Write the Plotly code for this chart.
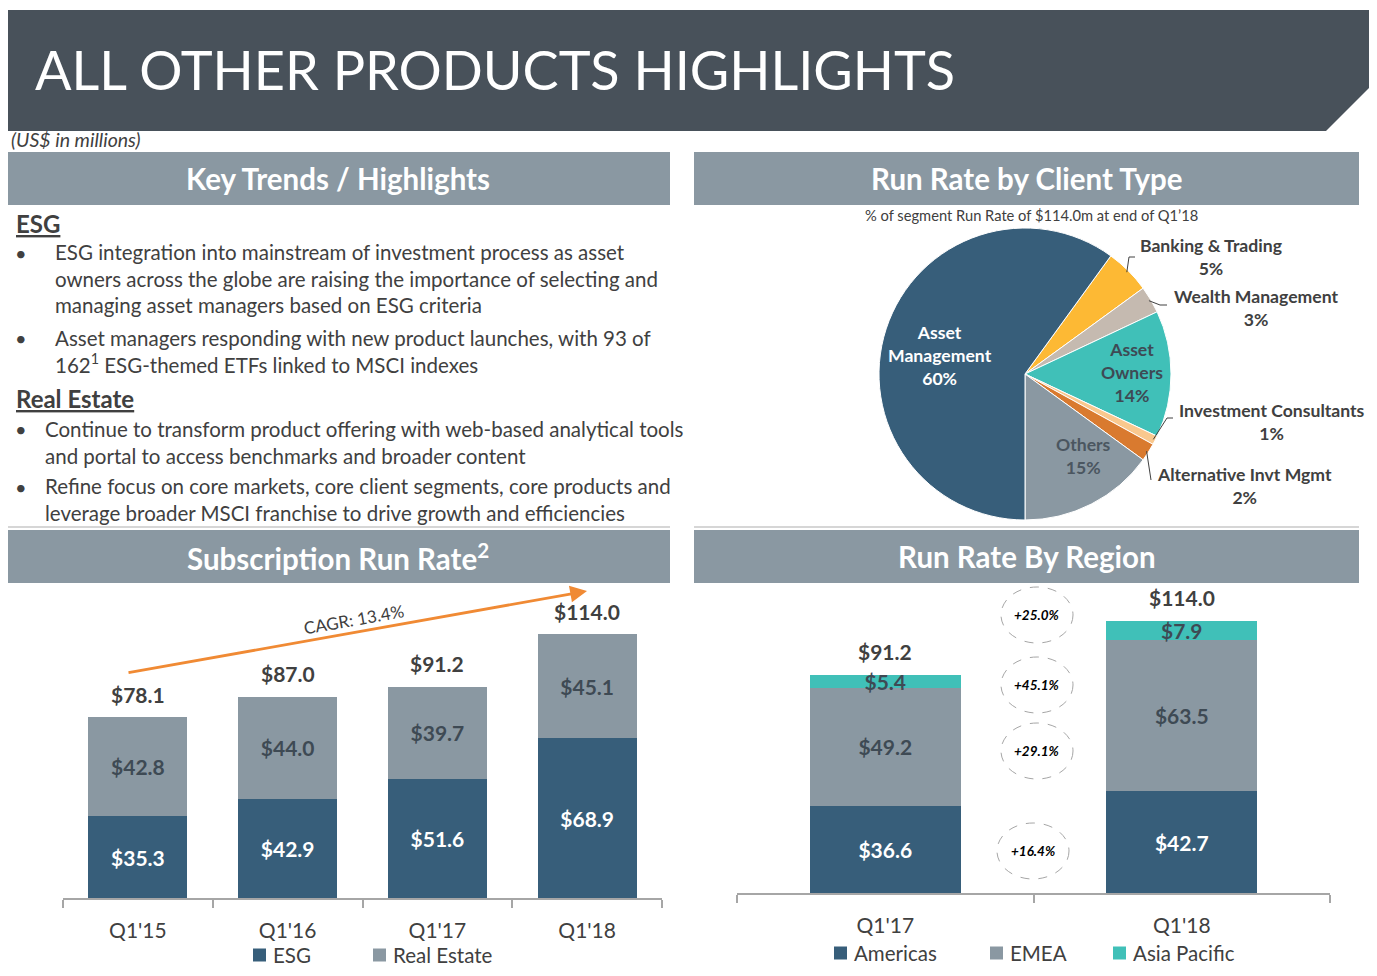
import math
import plotly.graph_objects as go

# ---------------- data ----------------
sub_quarters = ["Q1'15", "Q1'16", "Q1'17", "Q1'18"]
sub_esg = [35.3, 42.9, 51.6, 68.9]
sub_real_estate = [42.8, 44.0, 39.7, 45.1]
sub_totals = [78.1, 87.0, 91.2, 114.0]
sub_cagr = "CAGR: 13.4%"

reg_quarters = ["Q1'17", "Q1'18"]
reg_americas = [36.6, 42.7]
reg_emea = [49.2, 63.5]
reg_apac = [5.4, 7.9]
reg_totals = [91.2, 114.0]
reg_growth = ["+25.0%", "+45.1%", "+29.1%", "+16.4%"]

client_types = ["Banking & Trading", "Wealth Management", "Asset Owners",
                "Investment Consultants", "Alternative Invt Mgmt", "Others",
                "Asset Management"]
client_pct = [5, 3, 14, 1, 2, 15, 60]

esg_points = [
    "ESG integration into mainstream of investment process as asset<br>"
    "owners across the globe are raising the importance of selecting and<br>"
    "managing asset managers based on ESG criteria",
    "Asset managers responding with new product launches, with 93 of<br>"
    "162<sup>1</sup> ESG-themed ETFs linked to MSCI indexes",
]
re_points = [
    "Continue to transform product offering with web-based analytical tools<br>"
    "and portal to access benchmarks and broader content",
    "Refine focus on core markets, core client segments, core products and<br>"
    "leverage broader MSCI franchise to drive growth and efficiencies",
]

# ---------------- style ----------------
F = "Lato"
BLUE = "#375E7A"
GRAY = "#8A98A2"
TEAL = "#40C0B8"
BANNER = "#48515A"
TXT = "#404040"
DARKLBL = "#3E4A54"
ORANGE = "#F08A34"
AX = "#A6A6A6"
PIE_COLORS = ["#FDB934", "#C5BAB0", "#40C0B8", "#F9C88E", "#D97A2F", "#8A98A2", "#375E7A"]

OX, OY = 8, 8
W, H = 1361, 960


def X(x):
    return (x - OX) / W


def Y(y):
    return 1 - (y - OY) / H


def note(x, y, text, size, color=TXT, xanchor="center", **kw):
    d = dict(x=X(x), y=Y(y), xref="paper", yref="paper", text=text, showarrow=False,
             xanchor=xanchor, yanchor="middle", font=dict(family=F, size=size, color=color))
    d.update(kw)
    return d


fig = go.Figure()

# ---------------- subscription run rate (stacked bars) ----------------
fig.add_trace(go.Bar(
    x=sub_quarters, y=sub_esg, name="ESG", marker=dict(color=BLUE, line=dict(width=0)),
    width=0.66, texttemplate="<b>$%{y:.1f}</b>", textposition="inside",
    insidetextanchor="middle", constraintext="none",
    textfont=dict(family=F, size=21, color="white"), xaxis="x", yaxis="y", showlegend=False))
fig.add_trace(go.Bar(
    x=sub_quarters, y=sub_real_estate, name="Real Estate", marker=dict(color=GRAY, line=dict(width=0)),
    width=0.66, texttemplate="<b>$%{y:.1f}</b>", textposition="inside",
    insidetextanchor="middle", constraintext="none",
    textfont=dict(family=F, size=21, color=DARKLBL), xaxis="x", yaxis="y", showlegend=False))

# ---------------- run rate by region ----------------
for vals, nm, col, tcol in [(reg_americas, "Americas", BLUE, "white"),
                            (reg_emea, "EMEA", GRAY, DARKLBL),
                            (reg_apac, "Asia Pacific", TEAL, DARKLBL)]:
    fig.add_trace(go.Bar(
        x=reg_quarters, y=vals, name=nm, marker=dict(color=col, line=dict(width=0)),
        width=0.51, texttemplate="<b>$%{y:.1f}</b>", textposition="inside",
        insidetextanchor="middle", constraintext="none",
        textfont=dict(family=F, size=21, color=tcol), xaxis="x2", yaxis="y2", showlegend=False))

# ---------------- pie ----------------
PIE_CX, PIE_CY, PIE_R = 1025, 374, 146
PIE_ROT = 36
fig.add_trace(go.Pie(
    labels=client_types, values=client_pct, sort=False, direction="clockwise",
    rotation=PIE_ROT, textinfo="none", showlegend=False,
    marker=dict(colors=PIE_COLORS, line=dict(color="white", width=1)),
    domain=dict(x=[X(PIE_CX - PIE_R), X(PIE_CX + PIE_R)], y=[Y(PIE_CY + PIE_R), Y(PIE_CY - PIE_R)])))

shapes = []
ann = []

# banner
shapes.append(dict(type="path", xref="paper", yref="paper",
                   path=f"M{X(5)},{Y(10)} L{X(1377)},{Y(10)} L{X(1374)},{Y(83)} L{X(1326)},{Y(131)} L{X(5)},{Y(131)} Z",
                   fillcolor=BANNER, line=dict(width=0), layer="below"))
ann.append(note(33, 70, "ALL OTHER PRODUCTS HIGHLIGHTS", 54, "white", xanchor="left"))
ann.append(note(9, 140, "<i>(US$ in millions)</i>", 19.5, TXT, xanchor="left"))

# section headers
headers = [("Key Trends / Highlights", 6, 670, 152, 205),
           ("Run Rate by Client Type", 694, 1359, 152, 205),
           ("Subscription Run Rate<sup>2</sup>", 6, 670, 530, 583),
           ("Run Rate By Region", 694, 1359, 530, 583)]
for txt, x0, x1, y0, y1 in headers:
    shapes.append(dict(type="rect", xref="paper", yref="paper", x0=X(x0), x1=X(x1), y0=Y(y1), y1=Y(y0),
                       fillcolor=GRAY, line=dict(width=0), layer="below"))
    ann.append(note((x0 + x1) / 2, (y0 + y1) / 2, f"<b>{txt}</b>", 29.5, "white"))
for x0, x1 in [(8, 670), (694, 1359)]:
    shapes.append(dict(type="line", xref="paper", yref="paper", x0=X(x0), x1=X(x1), y0=Y(527), y1=Y(527),
                       line=dict(color="#C8C8C8", width=1.5)))

# key trends text
ann.append(note(14, 224, "<b><u>ESG</u></b>", 24, TXT, xanchor="left"))
ann.append(note(14, 399, "<b><u>Real Estate</u></b>", 24, TXT, xanchor="left"))
bullet_blocks = [(esg_points[0], 53, 253, 279), (esg_points[1], 53, 338, 351.5),
                 (re_points[0], 43, 429, 442), (re_points[1], 43, 487, 499.5)]
for txt, tx, by, cy in bullet_blocks:
    ann.append(note(13, by, "•", 20, TXT, xanchor="left"))
    ann.append(note(tx, cy, txt, 20.5, TXT, xanchor="left", align="left"))

# pie subtitle and labels
ann.append(note(1032, 215, "% of segment Run Rate of $114.0m at end of Q1\u201918", 14.7, TXT))
pie_label_pos = {
    "Asset Management": (940, 355, "white", "Asset<br>Management"),
    "Asset Owners": (1132, 373, DARKLBL, "Asset<br>Owners"),
    "Others": (1083, 456, "#4B5660", "Others"),
    "Banking & Trading": (1211, 257, TXT, "Banking & Trading"),
    "Wealth Management": (1256, 308, TXT, "Wealth Management"),
    "Investment Consultants": (1272, 422, TXT, "Investment Consultants"),
    "Alternative Invt Mgmt": (1244, 486, TXT, "Alternative Invt Mgmt"),
}
for lab, pct in zip(client_types, client_pct):
    px_, py_, col, txt = pie_label_pos[lab]
    ann.append(note(px_, py_, f"<b>{txt}<br>{pct}%</b>", 17.6, col))

# leader lines from slice midpoints (computed from data)
leader_knees = {
    "Banking & Trading": [(1129, 257), (1135, 257)],
    "Wealth Management": [(1160, 305), (1167, 305)],
    "Investment Consultants": [(1167, 418), (1173, 418)],
    "Alternative Invt Mgmt": [(1151, 480)],
}
total = sum(client_pct)
cum = 0
for lab, pct in zip(client_types, client_pct):
    mid = PIE_ROT + (cum + pct / 2) / total * 360
    cum += pct
    if lab in leader_knees:
        a = math.radians(mid)
        sx = PIE_CX + (PIE_R - 2) * math.sin(a)
        sy = PIE_CY - (PIE_R - 2) * math.cos(a)
        pts = [(sx, sy)] + leader_knees[lab]
        path = "M" + " L".join(f"{X(p[0])},{Y(p[1])}" for p in pts)
        shapes.append(dict(type="path", xref="paper", yref="paper", path=path,
                           line=dict(color=TXT, width=1)))

# subscription totals + CAGR arrow
for q, t in zip(sub_quarters, sub_totals):
    ann.append(dict(x=q, y=t, xref="x", yref="y", text=f"<b>${t:.1f}</b>", showarrow=False,
                    xanchor="center", yanchor="middle", yshift=23, font=dict(family=F, size=21, color=TXT)))
ann.append(dict(x=X(587), y=Y(591), xref="paper", yref="paper", ax=-460, ay=82, axref="pixel", ayref="pixel",
                text="", showarrow=True, arrowhead=2, arrowsize=1.2, arrowwidth=2.8, arrowcolor=ORANGE))
ann.append(note(353, 619, sub_cagr, 17, TXT, textangle=-10))

# region totals
for q, t in zip(reg_quarters, reg_totals):
    ann.append(dict(x=q, y=t, xref="x2", yref="y2", text=f"<b>${t:.1f}</b>", showarrow=False,
                    xanchor="center", yanchor="middle", yshift=24, font=dict(family=F, size=21, color=TXT)))

# growth bubbles
bubble_pos = [(1037, 615), (1037, 685), (1037, 751), (1033, 851)]
for g, (bx, by) in zip(reg_growth, bubble_pos):
    shapes.append(dict(type="circle", xref="paper", yref="paper", x0=X(bx - 36), x1=X(bx + 36),
                       y0=Y(by + 28), y1=Y(by - 28), line=dict(color="#A6A6A6", width=1, dash="dash")))
    ann.append(note(bx, by, f"<b><i>{g}</i></b>", 13.5, "black"))

# manual legends
legends = [[("ESG", BLUE, 253), ("Real Estate", GRAY, 373)],
           [("Americas", BLUE, 834), ("EMEA", GRAY, 990), ("Asia Pacific", TEAL, 1113)]]
legend_y = [955, 953]
for items, ly in zip(legends, legend_y):
    for name, col, lx in items:
        shapes.append(dict(type="rect", xref="paper", yref="paper", x0=X(lx), x1=X(lx + 13),
                           y0=Y(ly + 6.5), y1=Y(ly - 6.5), fillcolor=col, line=dict(width=0)))
        ann.append(note(lx + 18, ly, name, 20.5, TXT, xanchor="left"))

xcommon = dict(type="category", showline=True, linecolor=AX, linewidth=1.5, ticks="outside",
               tickson="boundaries", ticklen=8, tickcolor=AX, tickwidth=1.5, showgrid=False,
               zeroline=False, ticklabelstandoff=13, tickfont=dict(family=F, size=21, color=TXT),
               fixedrange=True)

fig.update_layout(
    width=W, height=H, autosize=False, margin=dict(l=0, r=0, t=0, b=0),
    paper_bgcolor="white", plot_bgcolor="white", barmode="stack",
    xaxis=dict(domain=[X(63), X(662)], range=[-0.5, 3.5], anchor="y", **xcommon),
    yaxis=dict(domain=[Y(898), Y(600)], range=[0, 298 / 2.3158], visible=False, anchor="x", fixedrange=True),
    xaxis2=dict(domain=[X(737), X(1330)], range=[-0.5, 1.5], anchor="y2", **xcommon),
    yaxis2=dict(domain=[Y(893), Y(600)], range=[0, 293 / 2.386], visible=False, anchor="x2", fixedrange=True),
    shapes=shapes, annotations=ann, font=dict(family=F, color=TXT),
)

fig.write_html("out.html")
